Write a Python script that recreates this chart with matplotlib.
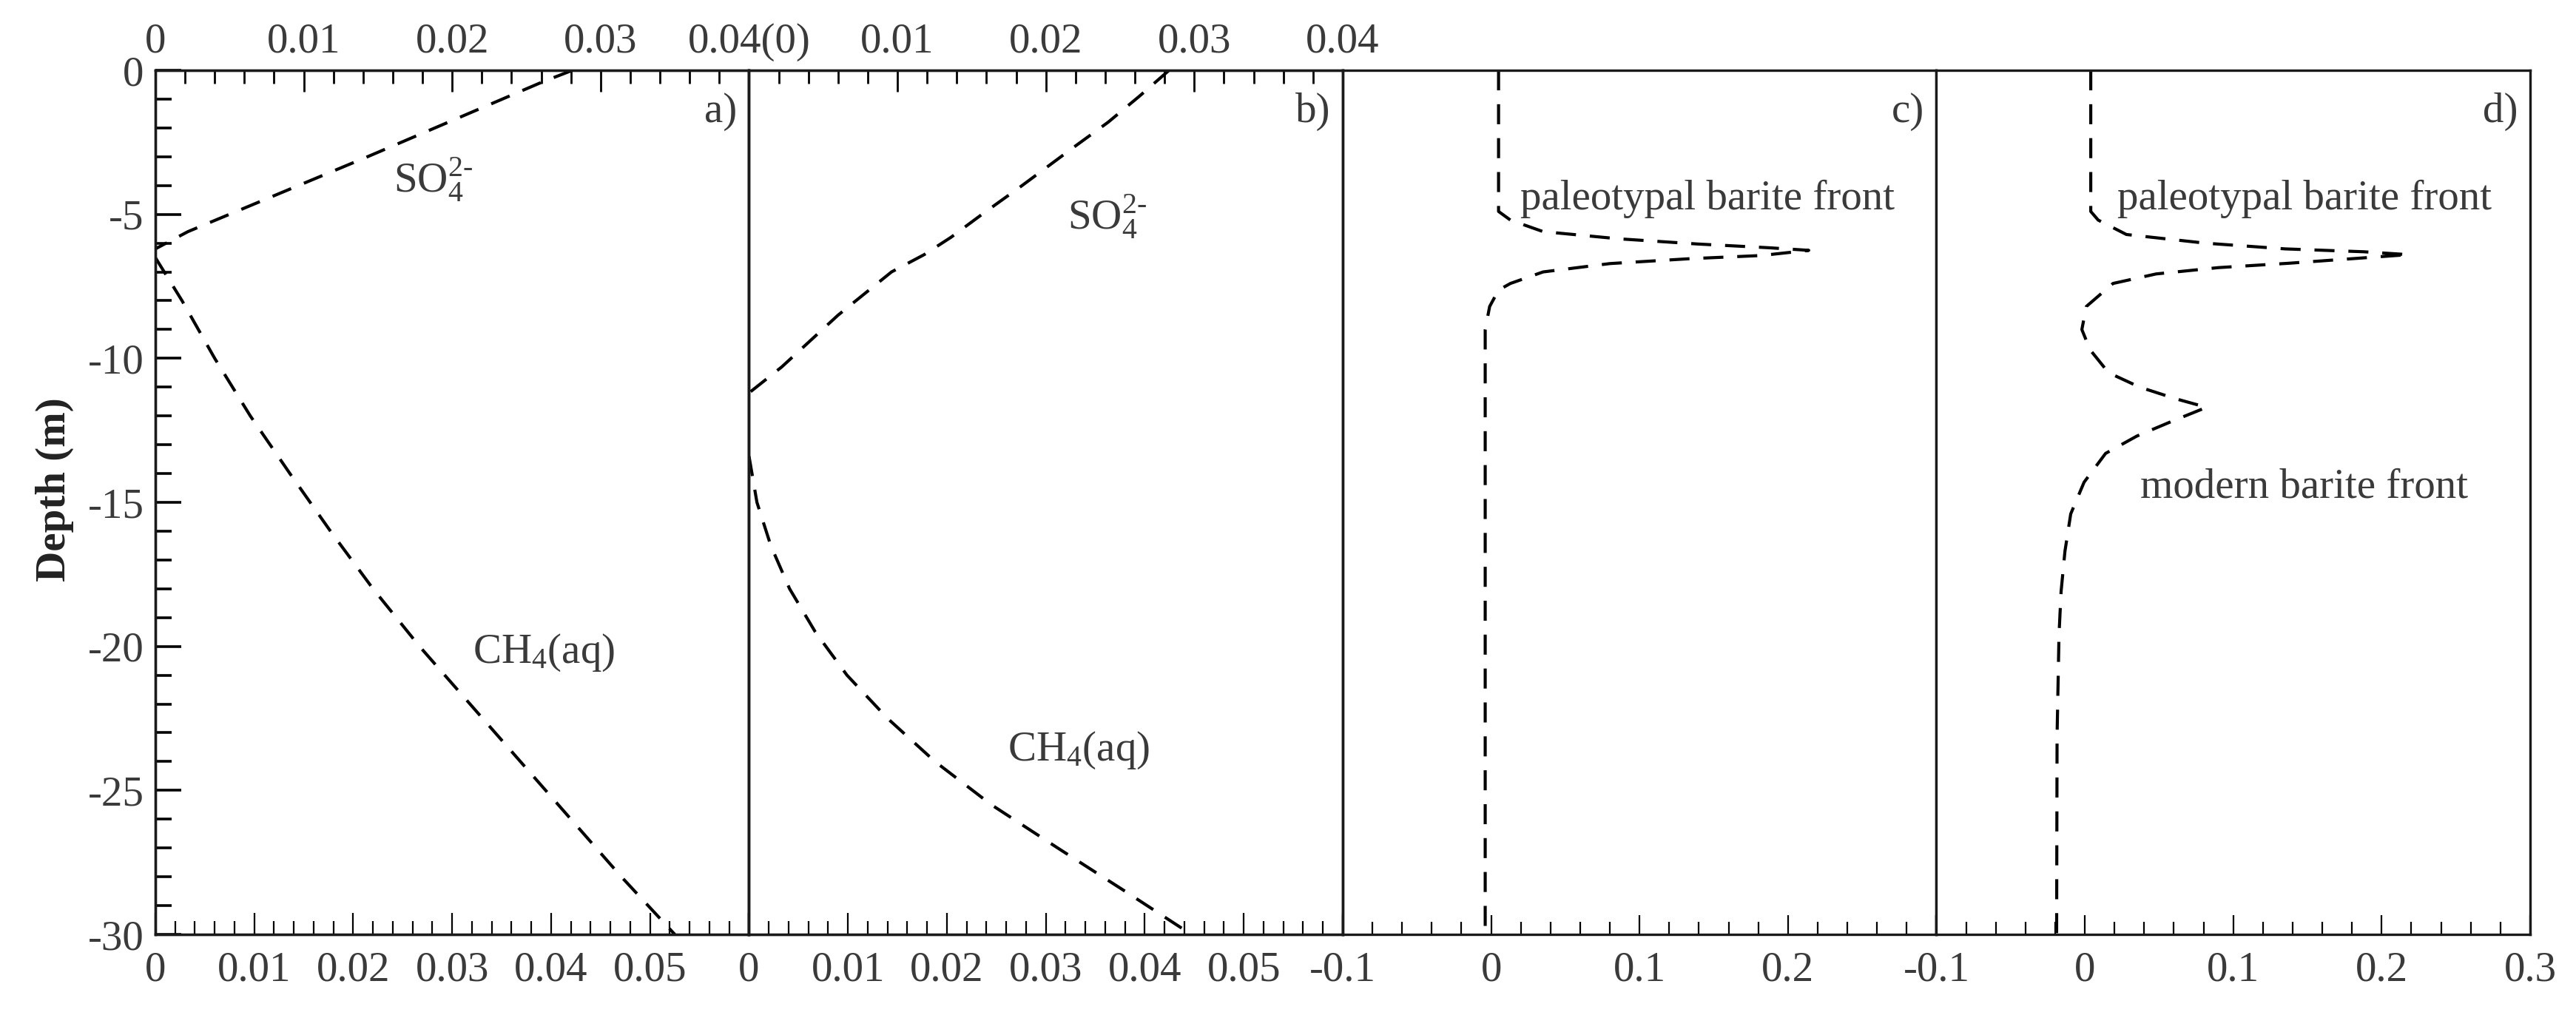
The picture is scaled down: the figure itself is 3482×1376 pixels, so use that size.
import numpy as np
import matplotlib.pyplot as plt
from matplotlib.ticker import MultipleLocator, FixedLocator, FixedFormatter

plt.rcParams['font.family'] = ['Liberation Serif', 'DejaVu Serif']
plt.rcParams['axes.unicode_minus'] = False
plt.rcParams['mathtext.fontset'] = 'custom'
plt.rcParams['mathtext.rm'] = 'Liberation Serif'
plt.rcParams['mathtext.it'] = 'Liberation Serif:italic'
plt.rcParams['mathtext.bf'] = 'Liberation Serif:bold'

# ---- data ----
# a) sulfate (top axis, 0-0.04) and methane (bottom axis, 0-0.06)
so4_a_depth = [0, -0.4, -3.0, -5.6, -6.2]
so4_a_conc = [0.0281, 0.0261, 0.0143, 0.0022, 0.0]
ch4_a_depth = [-6.5, -8, -10, -12, -14, -16, -18, -20, -22, -24, -26, -28, -30]
ch4_a_conc = [0.0, 0.0027, 0.0060, 0.0096, 0.0136, 0.0177, 0.0220, 0.0267, 0.0318, 0.0369, 0.0420, 0.0471, 0.0525]

# b)
so4_b_depth = [0, -0.9, -1.8, -2.7, -4.0, -5.0, -5.8, -6.4, -7.0, -8.5, -10.3, -11.2]
so4_b_conc = [0.0283, 0.0263, 0.0242, 0.0218, 0.0184, 0.0157, 0.0136, 0.0118, 0.0096, 0.0060, 0.0022, 0.0]
ch4_b_depth = [-13.4, -15, -16.5, -18, -19.5, -21, -22.5, -24, -25.5, -27, -28.5, -30]
ch4_b_conc = [0.0, 0.0008, 0.0022, 0.0041, 0.0067, 0.0099, 0.0140, 0.0188, 0.0245, 0.0312, 0.0380, 0.0447]

# c) barite, one front
bar_c_depth = [0, -4.9, -5.2, -5.6, -5.85, -6.03, -6.16, -6.25, -6.43, -6.54, -6.71, -7.0, -7.4, -7.63, -8.2, -9.0, -30.0]
bar_c_conc = [0.005, 0.005, 0.013, 0.035, 0.086, 0.139, 0.187, 0.214, 0.182, 0.134, 0.080, 0.035, 0.013, 0.005, -0.001, -0.004, -0.004]

# d) barite, two fronts
bar_d_depth = [0, -4.9, -5.2, -5.7, -6.0, -6.2, -6.3, -6.4, -6.7, -6.85, -7.07, -7.4, -8.2, -9.0, -9.7,
               -10.5, -11.0, -11.4, -11.7, -12.2, -12.7, -13.3, -14.3, -15.4, -16.7, -18.1, -19.6, -23.1, -30.0]
bar_d_conc = [0.004, 0.004, 0.009, 0.028, 0.081, 0.135, 0.188, 0.218, 0.137, 0.090, 0.048, 0.019, 0.001, -0.002, 0.0035,
              0.016, 0.037, 0.061, 0.082, 0.058, 0.035, 0.014, -0.0005, -0.0095, -0.0134, -0.016, -0.0174, -0.0187, -0.019]

# tick labels
bot_ab_ticks = [0, 0.01, 0.02, 0.03, 0.04, 0.05, 0.06]
bot_a_labels = ['0', '0.01', '0.02', '0.03', '0.04', '0.05', '']
bot_b_labels = ['0', '0.01', '0.02', '0.03', '0.04', '0.05', '']
top_ab_ticks = [0, 0.01, 0.02, 0.03, 0.04]
top_a_labels = ['0', '0.01', '0.02', '0.03', '0.04(0)']
top_b_labels = ['', '0.01', '0.02', '0.03', '0.04']
bot_cd_ticks = [-0.1, 0, 0.1, 0.2, 0.3]
bot_c_labels = ['-0.1', '0', '0.1', '0.2', '']
bot_d_labels = ['-0.1', '0', '0.1', '0.2', '0.3']
depth_ticks = [0, -5, -10, -15, -20, -25, -30]
depth_labels = ['0', '-5', '-10', '-15', '-20', '-25', '-30']

FS = 41
TXT = '#3a3a3a'
LS = (0, (6.5, 4.5))
LW = 3
SO4 = 'SO$_4^{\\mathrm{2\u2010}}$'
CH4 = 'CH$_4$(aq)'

fig = plt.figure(figsize=(34.82, 13.76), dpi=100)
left, bottom, w, h = 0.0603, 0.0821, 0.23047, 0.84884
axes = [fig.add_axes([left + i * w, bottom, w, h]) for i in range(4)]

for i, ax in enumerate(axes):
    ax.set_ylim(-30, 0)
    for s in ax.spines.values():
        s.set_linewidth(2.4)
        s.set_color('#1a1a1a')
    ax.tick_params(axis='x', which='both', direction='in', top=False, bottom=True,
                   labelsize=FS, labelcolor=TXT, pad=16, width=1.6)
    ax.tick_params(axis='x', which='major', length=21)
    ax.tick_params(axis='x', which='minor', length=13)
    if i == 0:
        ax.yaxis.set_major_locator(FixedLocator(depth_ticks))
        ax.yaxis.set_major_formatter(FixedFormatter(depth_labels))
        ax.yaxis.set_minor_locator(MultipleLocator(1))
        ax.tick_params(axis='y', which='both', direction='in', right=False,
                       labelsize=FS, labelcolor=TXT, pad=11, width=2.6)
        ax.tick_params(axis='y', which='major', length=25)
        ax.tick_params(axis='y', which='minor', length=16)
    else:
        ax.tick_params(axis='y', which='both', left=False, right=False, labelleft=False)

ax_a, ax_b, ax_c, ax_d = axes

# panels a and b: bottom axis methane, top axis sulfate
for ax, bot_lab, top_lab, so4_d, so4_c, ch4_d, ch4_c in [
        (ax_a, bot_a_labels, top_a_labels, so4_a_depth, so4_a_conc, ch4_a_depth, ch4_a_conc),
        (ax_b, bot_b_labels, top_b_labels, so4_b_depth, so4_b_conc, ch4_b_depth, ch4_b_conc)]:
    ax.set_xlim(0, 0.06)
    ax.xaxis.set_major_locator(FixedLocator(bot_ab_ticks))
    ax.xaxis.set_major_formatter(FixedFormatter(bot_lab))
    ax.xaxis.set_minor_locator(MultipleLocator(0.002))
    ax.plot(ch4_c, ch4_d, color='black', lw=LW, ls=LS)

    top = ax.twiny()
    top.set_xlim(0, 0.04)
    top.set_ylim(-30, 0)
    top.xaxis.set_major_locator(FixedLocator(top_ab_ticks))
    top.xaxis.set_major_formatter(FixedFormatter(top_lab))
    top.xaxis.set_minor_locator(MultipleLocator(0.002))
    top.tick_params(axis='x', which='both', direction='in', top=True, bottom=False,
                    labeltop=True, labelbottom=False, labelsize=FS, labelcolor=TXT, pad=9, width=2)
    top.tick_params(axis='x', which='major', length=21)
    top.tick_params(axis='x', which='minor', length=13)
    for s in top.spines.values():
        s.set_linewidth(2.4)
        s.set_color('#1a1a1a')
    top.plot(so4_c, so4_d, color='black', lw=LW, ls=LS)

# panels c and d: barite
for ax, lab, dep, conc in [(ax_c, bot_c_labels, bar_c_depth, bar_c_conc),
                           (ax_d, bot_d_labels, bar_d_depth, bar_d_conc)]:
    ax.set_xlim(-0.1, 0.3)
    ax.xaxis.set_major_locator(FixedLocator(bot_cd_ticks))
    ax.xaxis.set_major_formatter(FixedFormatter(lab))
    ax.xaxis.set_minor_locator(MultipleLocator(0.02))
    ax.tick_params(axis='x', which='major', length=19)
    ax.tick_params(axis='x', which='minor', length=12)
    ax.plot(conc, dep, color='black', lw=LW, ls=LS)

ax_a.set_ylabel('Depth (m)', fontsize=FS, fontweight='bold', color='#222222')
ax_a.yaxis.set_label_coords(-0.137, 0.515)

# annotations
for ax, tag in zip(axes, ['a)', 'b)', 'c)', 'd)']):
    ax.text(0.98, 0.952, tag, transform=ax.transAxes, ha='right', va='center', fontsize=FS, color=TXT)

ax_a.text(0.401, 0.859, SO4, transform=ax_a.transAxes, fontsize=FS, color=TXT, va='baseline')
ax_a.text(0.535, 0.3145, CH4, transform=ax_a.transAxes, fontsize=FS, color=TXT, va='baseline')
ax_b.text(0.536, 0.816, SO4, transform=ax_b.transAxes, fontsize=FS, color=TXT, va='baseline')
ax_b.text(0.435, 0.201, CH4, transform=ax_b.transAxes, fontsize=FS, color=TXT, va='baseline')
ax_c.text(0.299, 0.839, 'paleotypal barite front', transform=ax_c.transAxes, fontsize=FS, color=TXT, va='baseline')
ax_d.text(0.305, 0.839, 'paleotypal barite front', transform=ax_d.transAxes, fontsize=FS, color=TXT, va='baseline')
ax_d.text(0.343, 0.506, 'modern barite front', transform=ax_d.transAxes, fontsize=FS, color=TXT, va='baseline')

fig.savefig('out.png', dpi=100, facecolor='white')
